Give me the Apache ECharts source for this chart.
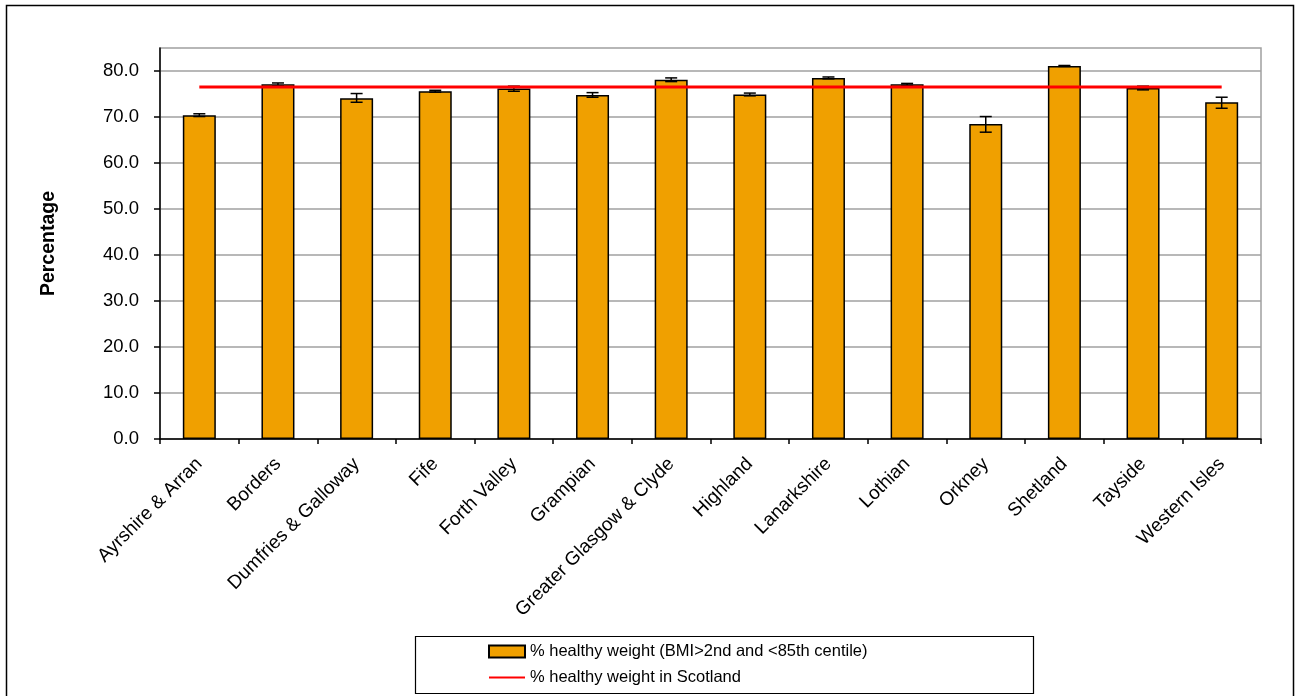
<!DOCTYPE html>
<html>
<head>
<meta charset="utf-8">
<script src="https://cdn.jsdelivr.net/npm/echarts@6/dist/echarts.min.js"></script>
<style>
html,body{margin:0;padding:0;background:#fff;}
#chart{width:1296px;height:696px;}
</style>
</head>
<body>
<div id="chart"></div>
<script>
const categories = ["Ayrshire & Arran","Borders","Dumfries & Galloway","Fife","Forth Valley","Grampian","Greater Glasgow & Clyde","Highland","Lanarkshire","Lothian","Orkney","Shetland","Tayside","Western Isles"];
const healthyWeight = [70.4, 77.1, 74.1, 75.6, 76.2, 74.8, 78.1, 74.9, 78.5, 77.1, 68.5, 81.1, 76.3, 73.2];
const errorLower = [70.1, 76.8, 73.2, 75.4, 75.6, 74.3, 77.7, 74.6, 78.3, 76.9, 66.7, 81.0, 75.9, 71.9];
const errorUpper = [70.7, 77.4, 75.1, 75.8, 76.7, 75.3, 78.5, 75.2, 78.7, 77.3, 70.1, 81.2, 76.7, 74.3];
const scotlandValue = 76.5;
const yTicks = [0, 10, 20, 30, 40, 50, 60, 70, 80];

const scotlandLine = categories.map(() => scotlandValue);
const errData = categories.map((c, i) => [i, errorLower[i], errorUpper[i]]);

const FONT = 'Liberation Sans, Arial, sans-serif';
const chart = echarts.init(document.getElementById('chart'), null, {renderer: 'canvas'});

chart.setOption({
  animation: false,
  backgroundColor: '#fff',
  textStyle: {fontFamily: FONT, color: '#000'},
  graphic: [
    {type: 'rect', shape: {x: 6.5, y: 5.5, width: 1287, height: 700}, style: {fill: 'none', stroke: '#000', lineWidth: 1.5}, z: 100, silent: true},
    {type: 'rect', shape: {x: 415.5, y: 636.5, width: 618, height: 57}, style: {fill: 'none', stroke: '#000', lineWidth: 1.2}, z: 100, silent: true}
  ],
  grid: {left: 160, right: 35, top: 48, bottom: 257, show: true, borderColor: '#A0A0A0', borderWidth: 1.5},
  legend: {
    data: [
      {name: '% healthy weight (BMI>2nd and <85th centile)', icon: 'rect'},
      {name: '% healthy weight in Scotland', itemStyle: {opacity: 0}}
    ],
    orient: 'vertical',
    left: 488,
    top: 643,
    padding: 0,
    itemWidth: 36,
    itemHeight: 12,
    itemGap: 9,
    textStyle: {fontFamily: FONT, fontSize: 16.5, color: '#000'}
  },
  xAxis: {
    type: 'category',
    data: categories,
    axisLine: {lineStyle: {color: '#000', width: 1.5}},
    axisTick: {show: true, length: 5, lineStyle: {color: '#000', width: 1.5}},
    axisLabel: {rotate: 45, fontSize: 19, color: '#000', fontFamily: FONT, margin: 22, interval: 0}
  },
  yAxis: {
    type: 'value',
    min: 0,
    max: 85,
    interval: 10,
    name: 'Percentage',
    nameLocation: 'middle',
    nameGap: 101,
    nameTextStyle: {fontSize: 19.5, fontWeight: 'bold', color: '#000', fontFamily: FONT},
    axisLine: {show: true, lineStyle: {color: '#000', width: 1.5}},
    axisTick: {show: true, length: 6, customValues: yTicks, lineStyle: {color: '#000', width: 1.5}},
    axisLabel: {fontSize: 18.5, color: '#000', fontFamily: FONT, margin: 21, customValues: yTicks,
      formatter: v => v.toFixed(1)},
    splitLine: {lineStyle: {color: '#A0A0A0', width: 1.5}}
  },
  series: [
    {
      name: '% healthy weight (BMI>2nd and <85th centile)',
      type: 'bar',
      data: healthyWeight,
      barWidth: 33,
      itemStyle: {color: '#F0A000', borderColor: '#000', borderWidth: 1.5},
      z: 2
    },
    {
      name: 'errorbars',
      type: 'custom',
      data: errData,
      z: 3,
      renderItem: function (params, api) {
        const x = api.value(0);
        const lo = api.coord([x, api.value(1)]);
        const hi = api.coord([x, api.value(2)]);
        const hw = 6;
        const st = {stroke: '#000', lineWidth: 1.5};
        return {
          type: 'group',
          children: [
            {type: 'line', shape: {x1: lo[0], y1: lo[1], x2: hi[0], y2: hi[1]}, style: st},
            {type: 'line', shape: {x1: lo[0] - hw, y1: lo[1], x2: lo[0] + hw, y2: lo[1]}, style: st},
            {type: 'line', shape: {x1: hi[0] - hw, y1: hi[1], x2: hi[0] + hw, y2: hi[1]}, style: st}
          ]
        };
      }
    },
    {
      name: '% healthy weight in Scotland',
      type: 'line',
      data: scotlandLine,
      symbol: 'none',
      showSymbol: false,
      lineStyle: {color: '#FF0000', width: 3},
      itemStyle: {color: '#FF0000'},
      z: 5
    }
  ]
});
</script>
</body>
</html>
